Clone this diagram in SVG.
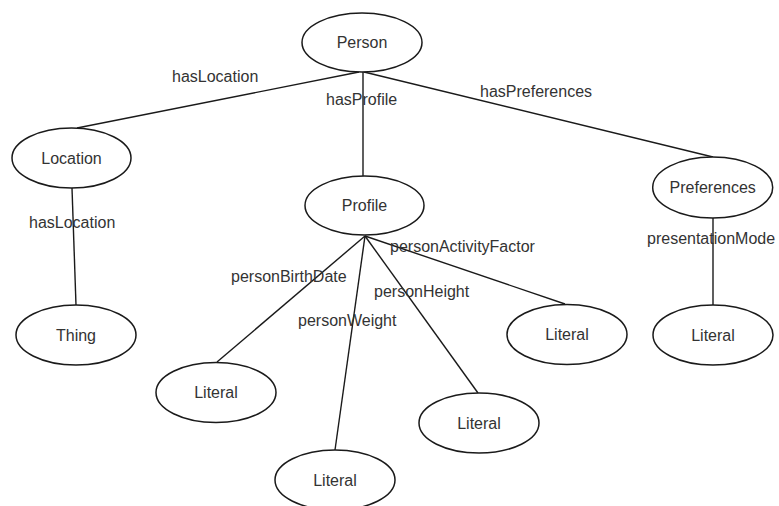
<svg xmlns="http://www.w3.org/2000/svg" width="779" height="506" viewBox="0 0 779 506">
  <style>
    .node ellipse { fill: #ffffff; stroke: #1a1a1a; stroke-width: 1.5; }
    .node text { font-family: "Liberation Sans", Arial, sans-serif; font-size: 16px; fill: #333333; text-anchor: middle; }
    .edges line { stroke: #1a1a1a; stroke-width: 1.4; }
    .label { font-family: "Liberation Sans", Arial, sans-serif; font-size: 16px; fill: #333333; }
  </style>
  <rect width="779" height="506" fill="#ffffff"/>

  <!-- connectors and their property labels -->
  <g id="edges" class="edges">
    <line x1="359" y1="72" x2="77" y2="128"/>
    <line x1="363" y1="72" x2="363" y2="176"/>
    <line x1="364" y1="72" x2="713" y2="157"/>
    <line x1="72" y1="188" x2="76" y2="305"/>
    <line x1="365" y1="236" x2="217" y2="362"/>
    <line x1="365" y1="236" x2="335" y2="450"/>
    <line x1="365" y1="236" x2="478" y2="393"/>
    <line x1="365" y1="236" x2="565" y2="304"/>
    <line x1="713" y1="218" x2="713" y2="305"/>
    <text class="label" x="172" y="82">hasLocation</text>
    <text class="label" x="326" y="105">hasProfile</text>
    <text class="label" x="480" y="97">hasPreferences</text>
    <text class="label" x="29" y="228">hasLocation</text>
    <text class="label" x="647" y="244">presentationMode</text>
    <text class="label" x="390" y="252">personActivityFactor</text>
    <text class="label" x="231" y="282">personBirthDate</text>
    <text class="label" x="374" y="297">personHeight</text>
    <text class="label" x="298" y="326">personWeight</text>
  </g>

  <g id="person" class="node">
    <ellipse cx="362" cy="42.5" rx="60" ry="29.5"/>
    <text x="362" y="48">Person</text>
  </g>
  <g id="location" class="node">
    <ellipse cx="71.5" cy="158" rx="59.5" ry="30"/>
    <text x="71.5" y="164">Location</text>
  </g>
  <g id="profile" class="node">
    <ellipse cx="364.5" cy="205.5" rx="59.5" ry="29.5"/>
    <text x="364.5" y="211">Profile</text>
  </g>
  <g id="preferences" class="node">
    <ellipse cx="712.7" cy="187.5" rx="60" ry="30.5"/>
    <text x="712.7" y="193">Preferences</text>
  </g>
  <g id="thing" class="node">
    <ellipse cx="76" cy="335" rx="60" ry="30"/>
    <text x="76" y="341">Thing</text>
  </g>
  <g id="literal-birthdate" class="node">
    <ellipse cx="216" cy="392.5" rx="60" ry="30"/>
    <text x="216" y="398">Literal</text>
  </g>
  <g id="literal-weight" class="node">
    <ellipse cx="335" cy="480" rx="60" ry="30"/>
    <text x="335" y="486">Literal</text>
  </g>
  <g id="literal-height" class="node">
    <ellipse cx="479" cy="423" rx="60" ry="30"/>
    <text x="479" y="429">Literal</text>
  </g>
  <g id="literal-activity" class="node">
    <ellipse cx="567" cy="334.5" rx="60" ry="30"/>
    <text x="567" y="340">Literal</text>
  </g>
  <g id="literal-presentation" class="node">
    <ellipse cx="713" cy="335" rx="60" ry="30"/>
    <text x="713" y="341">Literal</text>
  </g>
</svg>
